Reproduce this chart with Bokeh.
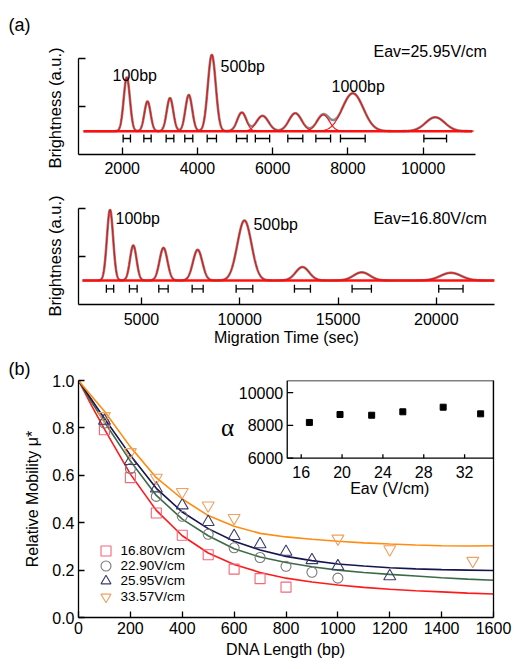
import numpy as np
from bokeh.plotting import figure
from bokeh.models import (Range1d, FixedTicker, LinearAxis, Legend, LegendItem, Title,
                          ColumnDataSource, Whisker, TeeHead, PrintfTickFormatter, Label)
from bokeh.layouts import column
from bokeh.embed import file_html
from bokeh.resources import INLINE
from bokeh.core.properties import value

FONT = "Liberation Sans"

# ---------------- data: panel (a), upper trace, Eav = 25.95 V/cm ----------------
a1_center = [2122, 2672, 3270, 3770, 4382, 5179, 5729, 6601, 7343, 8130, 10320]   # sec
a1_height = [1.12, 0.62, 0.69, 0.755, 1.59, 0.39, 0.32, 0.375, 0.34, 0.79, 0.29]  # a.u. above baseline
a1_fwhm = [194, 194, 205, 213, 247, 284, 380, 399, 391, 657, 603]                # sec
a1_baseline = 0.485
a1_span = [971, 11303]
a1_ticks = [2000, 4000, 6000, 8000, 10000]

# ---------------- data: panel (a), lower trace, Eav = 16.80 V/cm ----------------
a2_center = [3400, 4583, 6119, 7858, 10239, 13189, 16206, 20741]
a2_height = [1.47, 0.73, 0.68, 0.64, 1.25, 0.28, 0.17, 0.16]
a2_fwhm = [372, 392, 475, 560, 848, 814, 983, 1237]
a2_baseline = 0.5
a2_span = [2000, 22965]
a2_ticks = [5000, 10000, 15000, 20000]

# ---------------- data: panel (b) ----------------
len_1680 = [100, 200, 300, 400, 500, 600, 700, 800]
mu_1680 = [0.792, 0.59, 0.441, 0.347, 0.265, 0.204, 0.164, 0.128]
len_2290 = [100, 200, 300, 400, 500, 600, 700, 800, 900, 1000]
mu_2290 = [0.82, 0.628, 0.511, 0.427, 0.351, 0.294, 0.253, 0.216, 0.191, 0.166]
len_2595 = [100, 200, 300, 400, 500, 600, 700, 800, 900, 1000, 1200]
mu_2595 = [0.83, 0.66, 0.544, 0.473, 0.403, 0.344, 0.309, 0.277, 0.242, 0.216, 0.174]
len_3357 = [100, 200, 300, 400, 500, 600, 1000, 1200, 1520]
mu_3357 = [0.85, 0.698, 0.59, 0.53, 0.473, 0.42, 0.333, 0.288, 0.239]

fit_len = [0, 50, 100, 200, 300, 400, 500, 600, 700, 800, 900, 1000, 1100, 1200, 1300, 1400, 1500, 1600]
fit_1680 = [1.0, 0.895, 0.795, 0.605, 0.452, 0.345, 0.272, 0.224, 0.19, 0.166, 0.15, 0.137, 0.127, 0.119, 0.113, 0.108, 0.103, 0.099]
fit_2290 = [1.0, 0.91, 0.825, 0.66, 0.515, 0.415, 0.345, 0.29, 0.255, 0.232, 0.214, 0.2, 0.19, 0.182, 0.175, 0.168, 0.162, 0.157]
fit_2595 = [1.0, 0.92, 0.84, 0.685, 0.545, 0.445, 0.375, 0.322, 0.285, 0.258, 0.24, 0.226, 0.217, 0.21, 0.205, 0.202, 0.2, 0.198]
fit_3357 = [1.0, 0.935, 0.87, 0.72, 0.59, 0.5, 0.43, 0.385, 0.355, 0.34, 0.33, 0.322, 0.315, 0.31, 0.306, 0.303, 0.302, 0.303]

legend_labels = ["16.80V/cm", "22.90V/cm", "25.95V/cm", "33.57V/cm"]

# inset
eav = [16.80, 19.80, 22.90, 25.95, 29.90, 33.57]
alpha_vals = [8180, 8665, 8620, 8830, 9110, 8705]
inset_yticks = [6000, 8000, 10000]
inset_xticks = [16, 20, 24, 28, 32]

LEFT = 78  # shared left border (bokeh aligns the left borders of stacked plots)


def style_axes(p, tick_in):
    for ax in p.axis:
        ax.axis_line_width = 1.3
        ax.axis_line_color = "black"
        ax.major_tick_line_width = 1.3
        ax.major_tick_line_color = "black"
        ax.minor_tick_line_color = None
        ax.major_tick_out = 0
        ax.major_tick_in = tick_in
        ax.major_label_text_font = FONT
        ax.major_label_text_font_size = "16px"
        ax.major_label_text_color = "black"
        ax.axis_label_text_font = FONT
        ax.axis_label_text_font_size = "16px"
        ax.axis_label_text_font_style = "normal"
        ax.axis_label_text_color = "black"


def gauss_parts(center, height, fwhm, base):
    xs, ys = [], []
    for c, h, w in zip(center, height, fwhm):
        s = w / 2.3548
        x = np.linspace(c - 4 * s, c + 4 * s, 160)
        xs.append(list(x))
        ys.append(list(base + h * np.exp(-0.5 * ((x - c) / s) ** 2)))
    return xs, ys


def gauss_sum(center, height, fwhm, base, span):
    x = np.linspace(span[0], span[1], 3000)
    y = np.full_like(x, base)
    for c, h, w in zip(center, height, fwhm):
        s = w / 2.3548
        y += h * np.exp(-0.5 * ((x - c) / s) ** 2)
    return x, y


def trace_panel(center, height, fwhm, base, span, xr, xbounds, fh, ytop, btop, bbot, xticks, bar_y,
                xstand, title_off):
    p = figure(frame_width=416, frame_height=fh, x_range=Range1d(*xr), y_range=Range1d(0, ytop),
               min_border_left=LEFT, min_border_right=19, min_border_top=btop, min_border_bottom=bbot,
               output_backend="svg", toolbar_location=None)
    p.outline_line_color = None
    p.grid.visible = False
    p.xaxis.ticker = FixedTicker(ticks=xticks)
    p.xaxis.bounds = xbounds
    p.yaxis.ticker = FixedTicker(ticks=[1, 2])
    p.yaxis.bounds = (0, 2)
    p.yaxis.major_label_overrides = {1: "", 2: ""}
    style_axes(p, 7)
    p.yaxis.major_label_standoff = 0
    p.xaxis.major_label_standoff = xstand
    p.add_layout(Title(text="Brightness (a.u.)", align="left", offset=title_off, standoff=30,
                       vertical_align="bottom", text_font=FONT, text_font_size="16.5px",
                       text_font_style="normal", text_color="black"), "left")

    tx, ty = gauss_sum(center, height, fwhm, base, span)
    p.line(tx, ty, line_color="#8a8a8a", line_width=2.6)
    p.line(span, [base, base], line_color="#ff1010", line_width=2.6)
    xs, ys = gauss_parts(center, height, fwhm, base)
    p.multi_line(xs, ys, line_color="#ee1111", line_width=1.2)

    c = np.array(center, dtype=float)
    hw = np.array(fwhm, dtype=float) / 2
    src = ColumnDataSource(dict(base=[bar_y] * len(c), lower=list(c - hw), upper=list(c + hw)))
    p.add_layout(Whisker(source=src, base="base", lower="lower", upper="upper", dimension="width",
                         line_color="black", line_width=1.3,
                         lower_head=TeeHead(size=8, line_color="black", line_width=1.3),
                         upper_head=TeeHead(size=8, line_color="black", line_width=1.3)))
    return p


def lab(p, x, y, text, size="16px"):
    p.add_layout(Label(x=x, y=y, text=text, text_font=FONT, text_font_size=size,
                       text_align="left", text_baseline="alphabetic", text_color="black"))


def panel_tag(p, text, off):
    p.add_layout(Title(text=text, align="left", offset=off, standoff=3, vertical_align="bottom",
                       text_font=FONT, text_font_size="18px", text_font_style="normal",
                       text_color="black"), "above")


# ---------------- figure A ----------------
p1 = trace_panel(a1_center, a1_height, a1_fwhm, a1_baseline, a1_span, (838, 11896), (838, 11390),
                 118, 118 / 48, 36, 28, a1_ticks, 0.333, 7, -14)
panel_tag(p1, "(a)", -70)
lab(p1, 1742, 1.65, "100bp")
lab(p1, 4613, 1.825, "500bp")
lab(p1, 7563, 1.42, "1000bp")
lab(p1, 8679, 2.14, "Eav=25.95V/cm")

# ---------------- figure B ----------------
p2 = trace_panel(a2_center, a2_height, a2_fwhm, a2_baseline, a2_span, (1796, 22960), (1796, 22960),
                 108, 108 / 48, 14, 50, a2_ticks, 0.327, 8, -12)
p2.xaxis.axis_label = "Migration Time (sec)"
p2.xaxis.axis_label_standoff = 1
lab(p2, 3678, 1.785, "100bp")
lab(p2, 10696, 1.667, "500bp")
lab(p2, 16799, 1.785, "Eav=16.80V/cm")

# ---------------- figure C ----------------
p3 = figure(frame_width=415, frame_height=237, x_range=Range1d(0, 1600), y_range=Range1d(0, 1),
            min_border_left=LEFT, min_border_right=20, min_border_top=26, min_border_bottom=47,
            output_backend="svg", toolbar_location=None)
p3.outline_line_color = None
p3.grid.visible = False
p3.xaxis.ticker = FixedTicker(ticks=list(range(0, 1601, 200)))
p3.yaxis.ticker = FixedTicker(ticks=[0, 0.2, 0.4, 0.6, 0.8, 1.0])
p3.yaxis.formatter = PrintfTickFormatter(format="%.1f")
p3.xaxis.axis_label = "DNA Length (bp)"
p3.yaxis.axis_label = "Relative Mobility \u03bc*"
p3.add_layout(LinearAxis(ticker=FixedTicker(ticks=[]), major_label_text_font_size="0px"), "right")
style_axes(p3, 6)
p3.xaxis.major_label_standoff = 4
p3.xaxis.axis_label_standoff = 4
p3.yaxis.major_label_standoff = 4
p3.yaxis.axis_label_standoff = 8
panel_tag(p3, "(b)", -70)

ix0, ix1, iy0, iy1 = 14.63, 34.83, 6000, 10738
p3.extra_x_ranges = {"ins": Range1d(-5.81, ix1)}
p3.extra_y_ranges = {"ins": Range1d(-3714, iy1)}

p3.line(fit_len, fit_1680, line_color="#ff1a1a", line_width=1.6)
p3.line(fit_len, fit_2290, line_color="#3d6b47", line_width=1.6)
p3.line(fit_len, fit_2595, line_color="#16164e", line_width=1.6)
p3.line(fit_len, fit_3357, line_color="#ff8c10", line_width=1.6)

r1 = p3.scatter(len_1680, mu_1680, marker="square", size=10, fill_color=None, line_color="#f06878", line_width=1.1)
r2 = p3.scatter(len_2290, mu_2290, marker="circle", size=10, fill_color=None, line_color="#7a7a7a", line_width=1.1)
r3 = p3.scatter(len_2595, mu_2595, marker="triangle", size=12, fill_color=None, line_color="#3c3c6c", line_width=1.1)
r4 = p3.scatter(len_3357, mu_3357, marker="inverted_triangle", size=12, fill_color=None, line_color="#f0a060", line_width=1.1)

# one legend box per entry so that the marker glyphs can be full size while rows stay 15px apart
legend_rows_bottom = [54.5, 39.2, 23.8, 8.5]
for t, r, ly in zip(legend_labels, [r1, r2, r3, r4], legend_rows_bottom):
    p3.add_layout(Legend(items=[LegendItem(label=t, renderers=[r])], location=(14.5, ly),
                         border_line_color=None, background_fill_alpha=0, padding=0, margin=0,
                         spacing=0, glyph_width=25, glyph_height=25, label_height=25, label_standoff=3,
                         label_text_font=FONT, label_text_font_size="13.5px", label_text_color="black"))

# inset
p3.quad(left=[ix0], right=[ix1], bottom=[iy0], top=[iy1], fill_color="white", line_color="black",
        line_width=1.3, x_range_name="ins", y_range_name="ins")
p3.ray(x=[ix0] * len(inset_yticks), y=inset_yticks, length=6, length_units="screen", angle=0,
       line_color="black", line_width=1.3, x_range_name="ins", y_range_name="ins")
p3.ray(x=inset_xticks, y=[iy0] * len(inset_xticks), length=4, length_units="screen", angle=np.pi / 2,
       line_color="black", line_width=1.3, x_range_name="ins", y_range_name="ins")
p3.text(x=[ix0] * len(inset_yticks), y=inset_yticks, text=[str(v) for v in inset_yticks], x_offset=-4,
        text_align="right", text_baseline="middle", text_font=value(FONT), text_font_size="16px",
        text_color="black", x_range_name="ins", y_range_name="ins")
p3.text(x=inset_xticks, y=[iy0] * len(inset_xticks), text=[str(v) for v in inset_xticks], y_offset=14,
        text_align="center", text_baseline="middle", text_font=value(FONT), text_font_size="16px",
        text_color="black", x_range_name="ins", y_range_name="ins")
p3.text(x=[24.67], y=[4134], text=["Eav (V/cm)"], text_align="center", text_baseline="middle",
        text_font=value(FONT), text_font_size="16px", text_color="black", x_range_name="ins", y_range_name="ins")
p3.text(x=[8.79], y=[7890], text=["\u03b1"], text_align="center", text_baseline="middle",
        text_font=value("Liberation Serif"), text_font_size="25px", text_color="black",
        x_range_name="ins", y_range_name="ins")
p3.scatter(eav, alpha_vals, marker="square", size=6, color="black", x_range_name="ins", y_range_name="ins")

layout = column(p1, p2, p3, spacing=0)
open("out.html", "w").write(file_html(layout, INLINE))
